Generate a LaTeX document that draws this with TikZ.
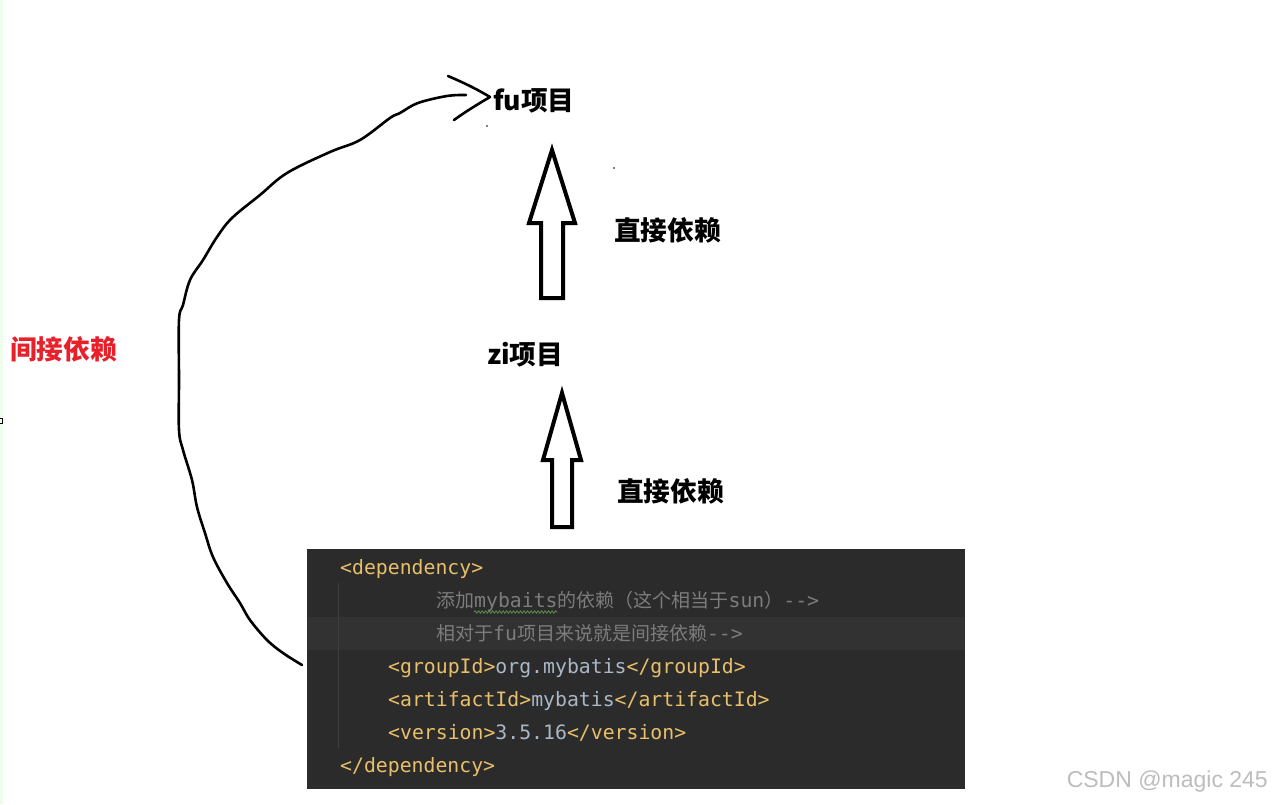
\documentclass[tikz,border=0pt]{standalone}
\usepackage{fontspec}
\usetikzlibrary{decorations.pathmorphing}
\newfontfamily\cjk{Noto Sans CJK SC}
\newfontfamily\mono{DejaVu Sans Mono}
\newfontfamily\wmfont{Liberation Sans}
\definecolor{codebg}{HTML}{2B2B2B}
\definecolor{hlbg}{HTML}{323232}
\definecolor{guide}{HTML}{3E3E3E}
\definecolor{tag}{HTML}{E8BF6A}
\definecolor{val}{HTML}{A9B7C6}
\definecolor{cmt}{HTML}{7C7C7C}
\definecolor{redlbl}{HTML}{E8202A}
\definecolor{wavy}{HTML}{5E8F4E}
\definecolor{wmark}{HTML}{BDBDBD}
\newcommand\czh[1]{{\cjk\fontsize{19}{20}\selectfont #1}}
\tikzset{
  lbl/.style={font=\cjk\bfseries\fontsize{26.7}{28}\selectfont, inner sep=0pt},
  codeline/.style={font=\mono\fontsize{19.8}{22}\selectfont, inner sep=0pt, anchor=base west},
  blockarrow/.style={draw=black, line width=4pt, fill=white, line join=miter, miter limit=10},
  hand/.style={draw=black, line width=2.6pt, line cap=round, line join=round}
}
\begin{document}
\begin{tikzpicture}[x=1pt,y=-1pt]
\path[use as bounding box, fill=white] (0,0) rectangle (1272,804);
% faint left edge
\fill[green!8!white] (0,0) rectangle (3,804);
\draw[black, line width=0.8pt] (0,418) -- (2,418) -- (2,423) -- (0,423);

% labels
\node[lbl, anchor=west] (fu) at (493,101) {fu项目};
\node[lbl, anchor=west] (zi) at (487,355) {zi项目};
\node[lbl, anchor=west] (d1) at (614,230) {直接依赖};
\node[lbl, anchor=west] (d2) at (617,491) {直接依赖};
\node[lbl, anchor=west, text=redlbl] (ind) at (10,349) {间接依赖};

% block arrows zi -> fu and code -> zi
\draw[blockarrow] (552,150) -- (575,223) -- (563,223) -- (563,298) -- (541,298) -- (541,223) -- (529,223) -- cycle;
\draw[blockarrow] (562,393) -- (581,460) -- (572,460) -- (572,527) -- (552,527) -- (552,460) -- (543,460) -- cycle;

% stray dots
\fill (487,126) circle (0.9);
\fill (614,168) circle (0.9);

% code box
\fill[codebg] (307,549) rectangle (965,789);
\fill[hlbg] (307,617) rectangle (965,650);
\draw[guide, line width=1pt] (338,583) -- (338,748);
\node[codeline] (c1) at (340,574) {\color{tag}<dependency>};
\node[codeline, text=cmt] (c2) at (436,607) {\czh{添加}mybaits\czh{的依赖（这个相当于}sun\czh{）}-{}->};
\node[codeline, text=cmt] (c3) at (436,640) {\czh{相对于}fu\czh{项目来说就是间接依赖}-{}->};
\node[codeline] (c4) at (388,673) {\textcolor{tag}{<groupId>}\textcolor{val}{org.mybatis}\textcolor{tag}{</groupId>}};
\node[codeline] (c5) at (388,706) {\textcolor{tag}{<artifactId>}\textcolor{val}{mybatis}\textcolor{tag}{</artifactId>}};
\node[codeline] (c6) at (388,739) {\textcolor{tag}{<version>}\textcolor{val}{3.5.16}\textcolor{tag}{</version>}};
\node[codeline] (c7) at (340,772) {\color{tag}</dependency>};
\draw[wavy, line width=0.8pt, decorate, decoration={snake, amplitude=1.2pt, segment length=3.5pt}] (474,612) -- (557,612);

% hand-drawn indirect dependency curve
\coordinate (cs) at (302,665);
\coordinate (ce) at (466,95);
\draw[hand] plot[smooth, tension=0.6] coordinates {
 (cs) (283,653) (267,640) (250,620) (240,603) (227,583) (213,557) (205,533)
 (197,507) (192,480) (183,450) (179,430) (179,380) (179,320) (183,305)
 (190,280) (203,260) (217,237) (232,218) (260,195) (287,173) (330,152)
 (360,140) (390,118) (400,113) (418,103) (447,96) (ce)};
\draw[hand] (448,76) .. controls (462,82) and (475,88) .. (490,97);
\draw[hand] (454,120) .. controls (465,112) and (478,104) .. (490,97);

% watermark
\node[font=\wmfont\fontsize{23}{26}\selectfont, text=wmark, anchor=east, inner sep=0pt] (wm) at (1268,782) {CSDN @magic 245};
\end{tikzpicture}
\end{document}
